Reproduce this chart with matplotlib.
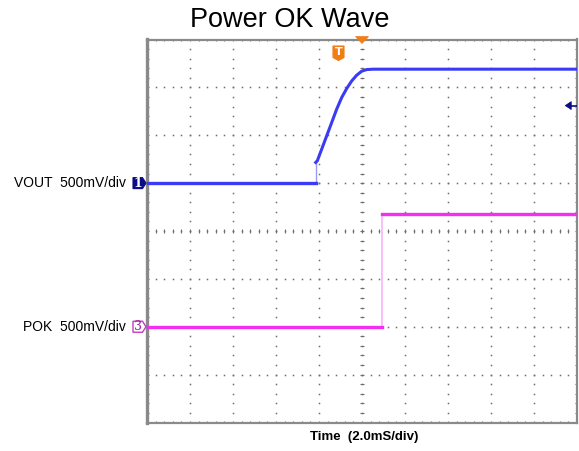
import numpy as np
import matplotlib
matplotlib.use('Agg')
import matplotlib.pyplot as plt
from matplotlib.patches import Polygon

# Осциллограмма: время в мс, напряжение в В
vout_t = [-10.0, -2.153, -2.153, -2.079, -1.874, -1.642, -1.409, -1.177, -0.944,
          -0.712, -0.479, -0.247, -0.014, 0.219, 0.526, 10.0]
vout_v = [0.0, 0.0, 0.216, 0.233, 0.355, 0.494, 0.633, 0.773, 0.894,
          0.988, 1.067, 1.127, 1.169, 1.186, 1.190, 1.190]
pok_t = [-10.0, 0.93, 0.93, 10.0]
pok_v = [0.0, 0.0, 1.18, 1.18]

ms_per_div = 2.0
v_per_div = 0.5
vout_offset = 1.0    # положение земли канала 1, дел.
pok_offset = -2.0    # положение земли канала 3, дел.
ref_arrow_v = 0.81   # маркер справа (канал 1)

title = "Power OK Wave"
xlabel = "Time  (2.0mS/div)"
ch1_label = "VOUT  500mV/div"
ch3_label = "POK  500mV/div"

blue = '#3b3bf5'
navy = '#0b0b86'
magenta = '#f22ff2'
grid_c = '#6e6e6e'
orange = '#f07d16'

fig = plt.figure(figsize=(5.79, 4.51), dpi=100)
ax = fig.add_axes([147 / 579, 1 - 422.5 / 451, 430 / 579, 383 / 451])
ax.set_xlim(-5, 5)
ax.set_ylim(-4, 4)
ax.set_xticks([])
ax.set_yticks([])
for s in ax.spines.values():
    s.set_color('#8a8a8a')
    s.set_linewidth(1.6)
ax.spines['left'].set_linewidth(2.4)

PX = 10 / 430   # дел. на пиксель по x
PY = 8 / 383    # дел. на пиксель по y


def shape(x0, y0, pts, **kw):
    # многоугольник, заданный в пикселях относительно точки (x0, y0)
    xy = [(x0 + dx * PX, y0 + dy * PY) for dx, dy in pts]
    ax.add_patch(Polygon(xy, closed=True, clip_on=False, **kw))


# сетка из точек (по 5 на деление)
minor = np.arange(-4, 4.001, 0.2)
minor_x = np.arange(-5, 5.001, 0.2)
for gx in range(-4, 5):
    ax.plot(np.full_like(minor, gx), minor, ls='none', marker='s', ms=1.1,
            color=grid_c, mew=0)
for gy in range(-3, 4):
    ax.plot(minor_x, np.full_like(minor_x, gy), ls='none', marker='s', ms=1.1,
            color=grid_c, mew=0)
# центральные оси с рисками
ax.plot(np.zeros_like(minor), minor, ls='none', marker='_', ms=3.5, mew=0.8, color=grid_c)
ax.plot(minor_x, np.zeros_like(minor_x), ls='none', marker='|', ms=3.5, mew=0.8, color=grid_c)
# риски по рамке
for yb in (-4, 4):
    ax.plot(minor_x, np.full_like(minor_x, yb), ls='none', marker='|', ms=3, mew=0.8, color=grid_c)
for xb in (-5, 5):
    ax.plot(np.full_like(minor, xb), minor, ls='none', marker='_', ms=3, mew=0.8, color=grid_c)

# трассы
vx = np.array(vout_t) / ms_per_div
vy = vout_offset + np.array(vout_v) / v_per_div
px = np.array(pok_t) / ms_per_div
py = pok_offset + np.array(pok_v) / v_per_div

ax.plot(vx[1:3], vy[1:3], color='#9a9af5', lw=1.0, zorder=3)
ax.plot(vx[:2], vy[:2], color=blue, lw=2.4, zorder=4)
ax.plot(vx[2:], vy[2:], color=blue, lw=2.2, zorder=4, solid_joinstyle='round')
ax.plot(px[1:3], py[1:3], color='#f7b4f7', lw=1.2, zorder=3)
ax.plot(px[:2], py[:2], color=magenta, lw=2.4, zorder=4)
ax.plot(px[2:], py[2:], color=magenta, lw=2.4, zorder=4)

# маркеры каналов
arrow_box = [(0, 0), (-3.5, 5.5), (-13, 5.5), (-13, -5.5), (-3.5, -5.5)]
shape(-5 - 1 * PX, vout_offset, arrow_box, fc=navy, ec=navy, lw=0.8, zorder=6)
shape(-5 - 1 * PX, pok_offset, arrow_box, fc='white', ec='#c040c0', lw=1.0, zorder=6)
ax.text(-5 - 9 * PX, vout_offset, '1', ha='center', va='center', color='white',
        fontsize=9, fontfamily='DejaVu Serif', fontweight='bold', zorder=7, clip_on=False)
ax.text(-5 - 9 * PX, pok_offset, '3', ha='center', va='center', color='#a020a0',
        fontsize=9, fontfamily='DejaVu Serif', zorder=7, clip_on=False)
ax.text(-5 - 21 * PX, vout_offset, ch1_label, ha='right', va='center', fontsize=10,
        fontfamily='Liberation Sans', clip_on=False)
ax.text(-5 - 21 * PX, pok_offset, ch3_label, ha='right', va='center', fontsize=10,
        fontfamily='Liberation Sans', clip_on=False)

# маркер справа
ay = vout_offset + ref_arrow_v / v_per_div
ax.plot([4.82, 5.0], [ay, ay], color=navy, lw=1.2, zorder=5)
shape(4.82, ay, [(-4, 0), (2, 4), (2, -4)], fc=navy, ec=navy, lw=0.5, zorder=5)

# триггер
shape(0, 4.0, [(-6.5, 3), (6.5, 3), (0, -4)], fc=orange, ec=orange, lw=0.5, zorder=6)
tx = -23.5 * PX
shape(tx, 4.0 - 13 * PY, [(-5.5, 6.5), (5.5, 6.5), (5.5, -5), (0, -8), (-5.5, -5)],
      fc=orange, ec=orange, lw=0.8, joinstyle='round', zorder=6)
ax.text(tx, 4.0 - 12.5 * PY, 'T', ha='center', va='center', color='white', fontsize=8,
        fontweight='bold', zorder=7)

fig.text(290 / 579, 1 - 20 / 451, title, ha='center', va='center', fontsize=19.5,
         fontfamily='Liberation Sans')
fig.text(364 / 579, 1 - 437 / 451, xlabel, ha='center', va='center', fontsize=9.5,
         fontfamily='Liberation Sans', fontweight='bold')

fig.savefig('out.png', dpi=100)
